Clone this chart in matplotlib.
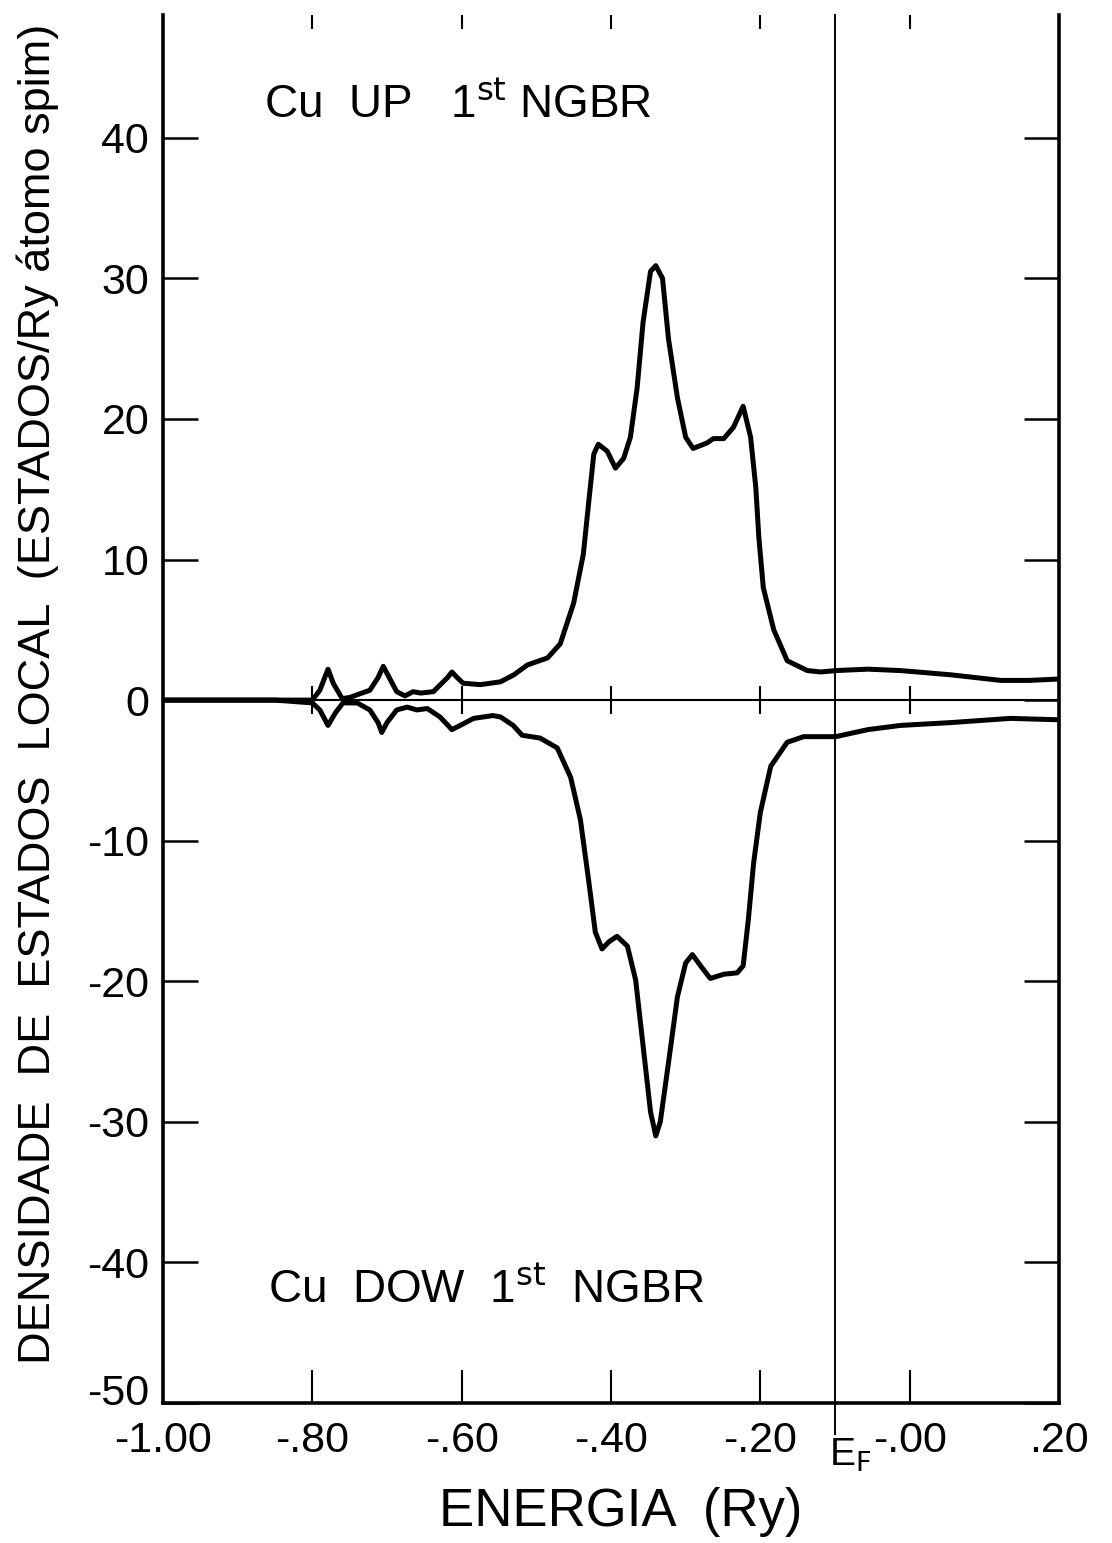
import numpy
from matplotlib import pyplot as plt
from matplotlib import transforms

# energia (Ry) e densidade local - spin UP
E_up = [-1.00, -0.85, -0.80, -0.790, -0.779, -0.772, -0.760, -0.749, -0.739, -0.723,
        -0.712, -0.705, -0.698, -0.687, -0.676, -0.665, -0.655, -0.638, -0.619, -0.613,
        -0.606, -0.598, -0.575, -0.548, -0.530, -0.512, -0.485, -0.468, -0.450, -0.437,
        -0.430, -0.423, -0.417, -0.405, -0.394, -0.383, -0.374, -0.365, -0.357, -0.347,
        -0.340, -0.331, -0.323, -0.311, -0.300, -0.290, -0.271, -0.263, -0.249, -0.236,
        -0.223, -0.213, -0.206, -0.202, -0.196, -0.182, -0.164, -0.137, -0.119, -0.099,
        -0.056, -0.012, 0.055, 0.122, 0.160, 0.200]
dos_up = [0, 0, 0, 0.7, 2.2, 1.2, 0.1, 0.2, 0.4, 0.7,
          1.6, 2.4, 1.7, 0.6, 0.3, 0.6, 0.5, 0.6, 1.6, 2.0,
          1.6, 1.2, 1.1, 1.3, 1.8, 2.5, 3.0, 4.0, 6.9, 10.4,
          14.0, 17.5, 18.2, 17.7, 16.5, 17.2, 18.7, 22.2, 26.9, 30.5,
          30.9, 30.0, 25.7, 21.5, 18.7, 17.9, 18.3, 18.6, 18.6, 19.4,
          20.9, 18.7, 15.1, 11.6, 8.0, 5.0, 2.8, 2.1, 2.0, 2.1,
          2.2, 2.1, 1.8, 1.4, 1.4, 1.5]

# spin DOWN
E_dn = [-1.00, -0.85, -0.80, -0.790, -0.779, -0.769, -0.759, -0.740, -0.723, -0.712,
        -0.707, -0.700, -0.687, -0.673, -0.660, -0.646, -0.629, -0.613, -0.602, -0.584,
        -0.558, -0.548, -0.531, -0.519, -0.495, -0.472, -0.454, -0.441, -0.430, -0.421,
        -0.412, -0.403, -0.392, -0.378, -0.367, -0.357, -0.347, -0.340, -0.334, -0.323,
        -0.311, -0.300, -0.291, -0.280, -0.267, -0.249, -0.231, -0.223, -0.216, -0.209,
        -0.200, -0.186, -0.164, -0.142, -0.119, -0.099, -0.056, -0.012, 0.055, 0.135,
        0.200]
dos_dn = [0, 0, -0.2, -0.7, -1.8, -0.9, -0.2, -0.2, -0.7, -1.6,
          -2.3, -1.6, -0.7, -0.5, -0.7, -0.6, -1.2, -2.1, -1.8, -1.3,
          -1.1, -1.2, -1.8, -2.5, -2.7, -3.4, -5.5, -8.5, -12.8, -16.5,
          -17.7, -17.2, -16.8, -17.5, -19.9, -24.6, -29.3, -31.0, -30.0, -25.8,
          -21.1, -18.7, -18.1, -18.9, -19.8, -19.5, -19.4, -18.9, -15.6, -11.6,
          -8.0, -4.7, -3.0, -2.6, -2.6, -2.6, -2.1, -1.8, -1.6, -1.3,
          -1.4]

x_ticks = [-1.00, -0.80, -0.60, -0.40, -0.20, 0.00, 0.20]
x_labels = ['-1.00', '-.80', '-.60', '-.40', '-.20', '-.00', '.20']
y_ticks = [-50, -40, -30, -20, -10, 0, 10, 20, 30, 40]
y_labels = ['-50', '-40', '-30', '-20', '-10', '0', '10', '20', '30', '40']
zero_marks = [-0.80, -0.60, -0.40, -0.20, 0.00]
E_fermi = -0.10

plt.rcParams['font.family'] = ['Liberation Sans', 'DejaVu Sans']

fig = plt.figure(figsize=(11.12, 15.43), dpi=100)
ax = fig.add_axes([0.1466, 0.0907, 0.8057, 0.8993])
ymax = 48.7
ax.set_xlim(-1.0, 0.2)
ax.set_ylim(-50, ymax)

ax.plot(E_up, dos_up, color='black', lw=3.6, solid_joinstyle='round')
ax.plot(E_dn, dos_dn, color='black', lw=3.6, solid_joinstyle='round')
ax.axhline(0, color='black', lw=1.5)
ax.plot(zero_marks, [0] * len(zero_marks), ls='none', marker='|',
        color='black', ms=20, mew=1.5)
ax.plot([E_fermi, E_fermi], [-52.2, ymax], color='black', lw=1.4, clip_on=False)
ax.text(E_fermi + 0.021, -52.4, r'E$_\mathrm{F}$', ha='center', va='top',
        fontsize=28)

for s in ['left', 'right', 'bottom']:
    ax.spines[s].set_linewidth(2.6)
ax.spines['top'].set_visible(False)

ax.set_xticks(x_ticks)
ax.set_xticklabels(x_labels, fontsize=31)
ax.set_yticks(y_ticks)
ax.set_yticklabels(y_labels, fontsize=31)
ax.tick_params(axis='x', direction='in', length=24, width=1.5, pad=13)
ax.tick_params(axis='y', direction='in', length=25, width=1.8, pad=10,
               left=True, right=True)

# o "-50" fica um pouco acima do eixo, como no original
lab = ax.get_yticklabels()[0]
lab.set_transform(lab.get_transform() +
                  transforms.ScaledTranslation(0, 14 / 100., fig.dpi_scale_trans))

top = ax.secondary_xaxis('top')
top.set_xticks(zero_marks)
top.set_xticklabels([])
top.tick_params(direction='in', length=10, width=1.5)
top.spines['top'].set_visible(False)

ax.text(-0.865, 42.3, r'Cu  UP   1$^{\mathrm{st}}$ NGBR', fontsize=33,
        va='center')
ax.text(-0.86, -42.0, r'Cu  DOW  1$^{\mathrm{st}}$  NGBR', fontsize=33,
        va='center')

fig.text(0.558, 0.004, 'ENERGIA  (Ry)', ha='center', va='bottom',
         fontsize=38)
fig.text(0.034, 0.55, u'DENSIDADE  DE  ESTADOS  LOCAL  (ESTADOS/Ry átomo spim)',
         rotation=90, ha='center', va='center', fontsize=32.5)

fig.savefig('out.png', dpi=100)
